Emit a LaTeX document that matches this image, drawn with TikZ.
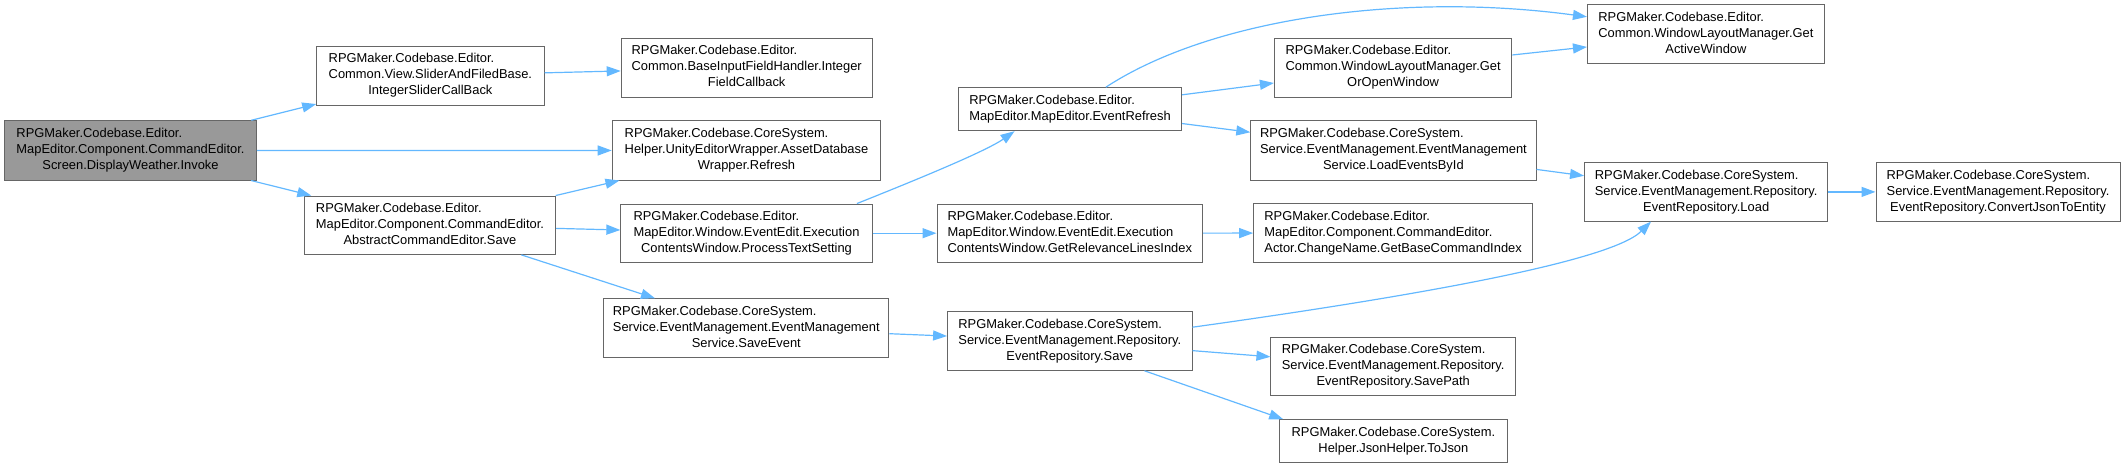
\documentclass[tikz,border=0pt]{standalone}
\usepackage{fontspec}
\setmainfont{Liberation Sans}
\usetikzlibrary{arrows.meta,calc}
\definecolor{edgec}{HTML}{63B8FF}
\definecolor{bord}{HTML}{666666}
\definecolor{hfill}{HTML}{999999}
\newcommand\threeL[3]{\begin{tabular}{@{}l@{}}#1\\#2\\\multicolumn{1}{@{}c@{}}{#3}\end{tabular}}
\newcommand\twoL[2]{\begin{tabular}{@{}l@{}}#1\\\multicolumn{1}{@{}c@{}}{#2}\end{tabular}}
\begin{document}
\begin{tikzpicture}[x=1pt,y=-1pt,
  box/.style={draw=bord, line width=1pt, fill=white, inner sep=0pt, font=\fontsize{12.9}{16}\selectfont, text=black},
  hbox/.style={box, fill=hfill},
  edge/.style={draw=edgec, line width=1.2pt, -{Triangle[length=14pt,width=10pt]}}]
\useasboundingbox (0,0) rectangle (2126,468);

\node[hbox, minimum width=251.8pt, minimum height=59.3pt] (inv) at (130.5,150.4) {\threeL{RPGMaker.Codebase.Editor.}{MapEditor.Component.CommandEditor.}{Screen.DisplayWeather.Invoke}};
\node[box, minimum width=227.3pt, minimum height=58.7pt] (sl) at (430.4,75.7) {\threeL{RPGMaker.Codebase.Editor.}{Common.View.SliderAndFiledBase.}{IntegerSliderCallBack}};
\node[box, minimum width=251.4pt, minimum height=58.3pt] (sv) at (430,225.2) {\threeL{RPGMaker.Codebase.Editor.}{MapEditor.Component.CommandEditor.}{AbstractCommandEditor.Save}};
\node[box, minimum width=251pt, minimum height=59pt] (ifc) at (746.7,67.8) {\threeL{RPGMaker.Codebase.Editor.}{Common.BaseInputFieldHandler.Integer}{FieldCallback}};
\node[box, minimum width=268.6pt, minimum height=59pt] (adb) at (746.5,150.5) {\threeL{RPGMaker.Codebase.CoreSystem.}{Helper.UnityEditorWrapper.AssetDatabase}{Wrapper.Refresh}};
\node[box, minimum width=251.3pt, minimum height=58.3pt] (pts) at (746.5,233.2) {\threeL{RPGMaker.Codebase.Editor.}{MapEditor.Window.EventEdit.Execution}{ContentsWindow.ProcessTextSetting}};
\node[box, minimum width=285.2pt, minimum height=58.3pt] (se) at (746.3,327.9) {\threeL{RPGMaker.Codebase.CoreSystem.}{Service.EventManagement.EventManagement}{Service.SaveEvent}};
\node[box, minimum width=223.3pt, minimum height=43pt] (er) at (1070,109.2) {\twoL{RPGMaker.Codebase.Editor.}{MapEditor.MapEditor.EventRefresh}};
\node[box, minimum width=265.6pt, minimum height=58.3pt] (grl) at (1069.8,233.2) {\threeL{RPGMaker.Codebase.Editor.}{MapEditor.Window.EventEdit.Execution}{ContentsWindow.GetRelevanceLinesIndex}};
\node[box, minimum width=244.4pt, minimum height=58.6pt] (ers) at (1069.8,341) {\threeL{RPGMaker.Codebase.CoreSystem.}{Service.EventManagement.Repository.}{EventRepository.Save}};
\node[box, minimum width=237.4pt, minimum height=59pt] (goo) at (1393.1,67.8) {\threeL{RPGMaker.Codebase.Editor.}{Common.WindowLayoutManager.Get}{OrOpenWindow}};
\node[box, minimum width=285.2pt, minimum height=59pt] (lei) at (1393.4,150.5) {\threeL{RPGMaker.Codebase.CoreSystem.}{Service.EventManagement.EventManagement}{Service.LoadEventsById}};
\node[box, minimum width=278.8pt, minimum height=58.6pt] (gbc) at (1393.1,233) {\threeL{RPGMaker.Codebase.Editor.}{MapEditor.Component.CommandEditor.}{Actor.ChangeName.GetBaseCommandIndex}};
\node[box, minimum width=244.5pt, minimum height=58.7pt] (sp) at (1393.2,366.4) {\threeL{RPGMaker.Codebase.CoreSystem.}{Service.EventManagement.Repository.}{EventRepository.SavePath}};
\node[box, minimum width=227.4pt, minimum height=42.6pt] (tj) at (1393.4,441) {\twoL{RPGMaker.Codebase.CoreSystem.}{Helper.JsonHelper.ToJson}};
\node[box, minimum width=236.9pt, minimum height=59pt] (gaw) at (1705.9,34.2) {\threeL{RPGMaker.Codebase.Editor.}{Common.WindowLayoutManager.Get}{ActiveWindow}};
\node[box, minimum width=243.3pt, minimum height=58.3pt] (ld) at (1706.2,191.9) {\threeL{RPGMaker.Codebase.CoreSystem.}{Service.EventManagement.Repository.}{EventRepository.Load}};
\node[box, minimum width=244pt, minimum height=58.3pt] (cje) at (1998,191.9) {\threeL{RPGMaker.Codebase.CoreSystem.}{Service.EventManagement.Repository.}{EventRepository.ConvertJsonToEntity}};

\draw[edge] (inv) -- (sl);
\draw[edge] (inv) -- (adb);
\draw[edge] (inv) -- (sv);
\draw[edge] (sl) -- (ifc);
\draw[edge] (sv) -- (adb);
\draw[edge] (sv) -- (pts);
\draw[edge] (sv) -- (se);
\draw[edge] ($(pts.north west)+(236.6,0)$) .. controls +(50,-20) and +(-30,21) .. ($(er.south west)+(56.7,0)$);
\draw[edge] (pts) -- (grl);
\draw[edge] ($(er.north west)+(148,0)$) .. controls +(104,-68) and +(-187.4,-25.3) .. ($(gaw.north west)+(0,12.6)$);
\draw[edge] (er) -- (goo);
\draw[edge] (er) -- (lei);
\draw[edge] (goo) -- (gaw);
\draw[edge] (lei) -- (ld);
\draw[edge] (grl) -- (gbc);
\draw[edge] (se) -- (ers);
\draw[edge] ($(ers.north east)+(0,16)$) .. controls +(208,-29) and +(-41.5,41) .. ($(ld.south west)+(67,0)$);
\draw[edge] (ers) -- (sp);
\draw[edge] ($(ers.south west)+(197.4,0)$) -- ($(tj.north west)+(4,0)$);
\draw[edge] (ld) -- (cje);
\end{tikzpicture}
\end{document}
